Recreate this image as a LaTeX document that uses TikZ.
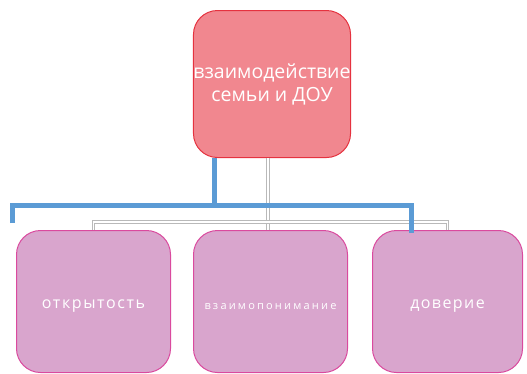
\documentclass[tikz,border=0pt]{standalone}
\usepackage{fontspec}
\setmainfont{Open Sans}
\usetikzlibrary{positioning}
\definecolor{headfill}{HTML}{F1878F}
\definecolor{headline}{HTML}{E5323F}
\definecolor{itemfill}{HTML}{D9A5CD}
\definecolor{itemline}{HTML}{DA4A9E}
\definecolor{barblue}{HTML}{5B9BD5}
\tikzset{
  box/.style={draw, line width=1pt, rounded corners=24pt, text=white, align=center},
  headbox/.style={box, fill=headfill, draw=headline, minimum width=156pt, minimum height=147pt},
  itembox/.style={box, fill=itemfill, draw=itemline, minimum width=154pt, minimum height=142pt},
  link/.style={draw=gray!55, double=white, double distance=1.8pt, line width=0.7pt},
  bar/.style={draw=barblue, line width=5pt}
}
\begin{document}
\begin{tikzpicture}[x=1pt,y=-1pt]
      \useasboundingbox (0,0) rectangle (527,373);
      \node[headbox, inner sep=0pt, font=\fontsize{19.5}{23}\selectfont] (head) at (272,84) {взаимодействие\\семьи и ДОУ};
      \node[itembox, below=72pt of head, xshift=-1.5pt] (mutual) {};
      \node[itembox, left=22pt of mutual] (open) {};
      \node[itembox, right=24pt of mutual, minimum width=150pt] (trust) {};
      \node[font=\fontsize{16}{18}\selectfont\addfontfeatures{LetterSpace=10}, text=white] at ([yshift=-5pt]open.center) {открытость};
      \node[font=\fontsize{11}{12}\selectfont\addfontfeatures{LetterSpace=20}, text=white] at ([yshift=-5pt]mutual.center) {взаимопонимание};
      \node[font=\fontsize{16}{18}\selectfont\addfontfeatures{LetterSpace=9}, text=white] at ([yshift=-5pt]trust.center) {доверие};
      \draw[link] ([xshift=-4pt]head.south) -- ([xshift=-4pt]head.south |- mutual.north);
      \draw[link] (open.north) |- ([yshift=8pt]mutual.north) -| (trust.north);
      \coordinate (bj) at (214,205);
      \coordinate (bl) at (12,223);
      \coordinate (br) at (411,233);
      \draw[bar] (head.south -| bj) -- (bj);
      \draw[bar] (bl) |- (bj) -| (br);
   \end{tikzpicture}
\end{document}
